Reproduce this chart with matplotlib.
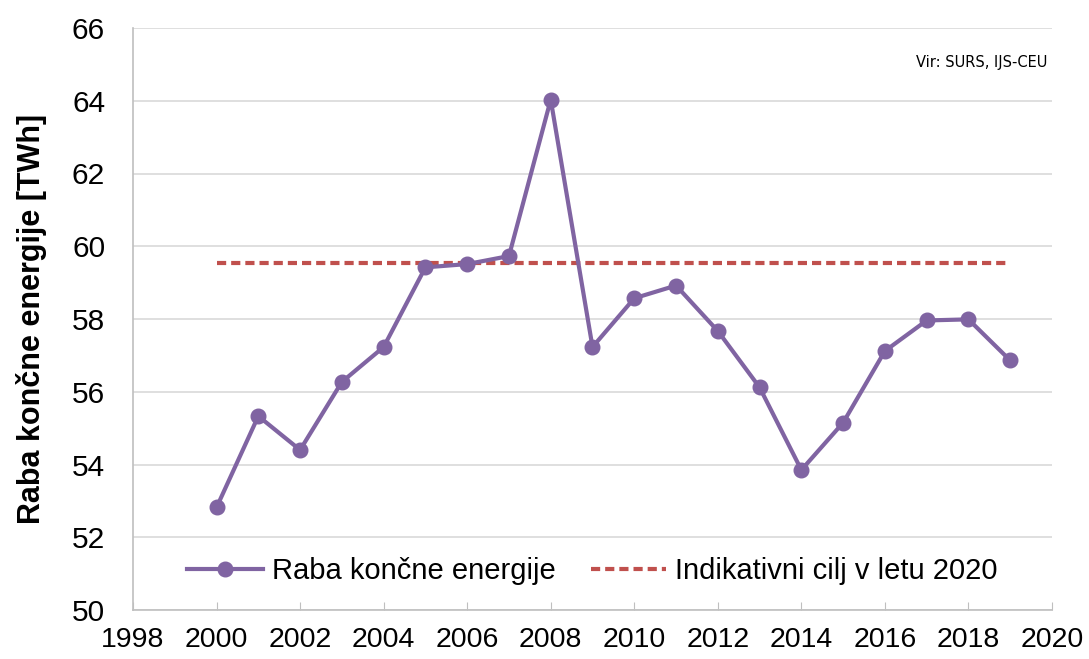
import matplotlib.pyplot as plt

years = list(range(2000, 2020))
raba = [52.82, 55.33, 54.40, 56.27, 57.23, 59.42, 59.51, 59.73, 64.03, 57.23,
        58.57, 58.92, 57.67, 56.12, 53.85, 55.15, 57.12, 57.96, 57.99, 56.86]
cilj_years = [2000, 2019]
cilj = [59.53, 59.53]

plt.rcParams['font.family'] = ['Liberation Sans', 'DejaVu Sans']

fig = plt.figure(figsize=(10.89, 6.59), dpi=100)
ax = fig.add_axes([133 / 1089, 1 - 610 / 659, 919 / 1089, 582 / 659])

ax.plot(years, raba, color='#8064A2', lw=3, marker='o', markersize=10.5,
        label='Raba končne energije', zorder=3)
ax.plot(cilj_years, cilj, color='#C0504D', lw=3, ls=(0, (2.2, 1.2)),
        label='Indikativni cilj v letu 2020', zorder=2)

ax.set_xlim(1998, 2020)
ax.set_ylim(50, 66)
ax.set_xticks(range(1998, 2021, 2))
ax.set_yticks(range(50, 67, 2))
ax.grid(axis='y', color='#d9d9d9', lw=1.2)
ax.set_axisbelow(True)
for s in ['top', 'right']:
    ax.spines[s].set_visible(False)
for s in ['left', 'bottom']:
    ax.spines[s].set_color('#bfbfbf')
    ax.spines[s].set_linewidth(1.2)
ax.tick_params(axis='x', direction='in', length=6, color='#bfbfbf', labelsize=20.5, pad=12)
ax.tick_params(axis='y', length=0, labelsize=21.5, pad=20)

ax.set_ylabel('Raba končne energije [TWh]', fontsize=22, fontweight='bold', labelpad=18)

ax.text(0.995, 0.94, 'Vir: SURS, IJS-CEU', transform=ax.transAxes, ha='right',
        va='center', fontsize=10.5, family=['DejaVu Sans'])

ax.legend(loc='lower center', bbox_to_anchor=(0.5, -0.002), ncol=2, frameon=False,
          fontsize=21, handlelength=2.6, columnspacing=1.2, handletextpad=0.3)

fig.savefig('out.png', dpi=100)
